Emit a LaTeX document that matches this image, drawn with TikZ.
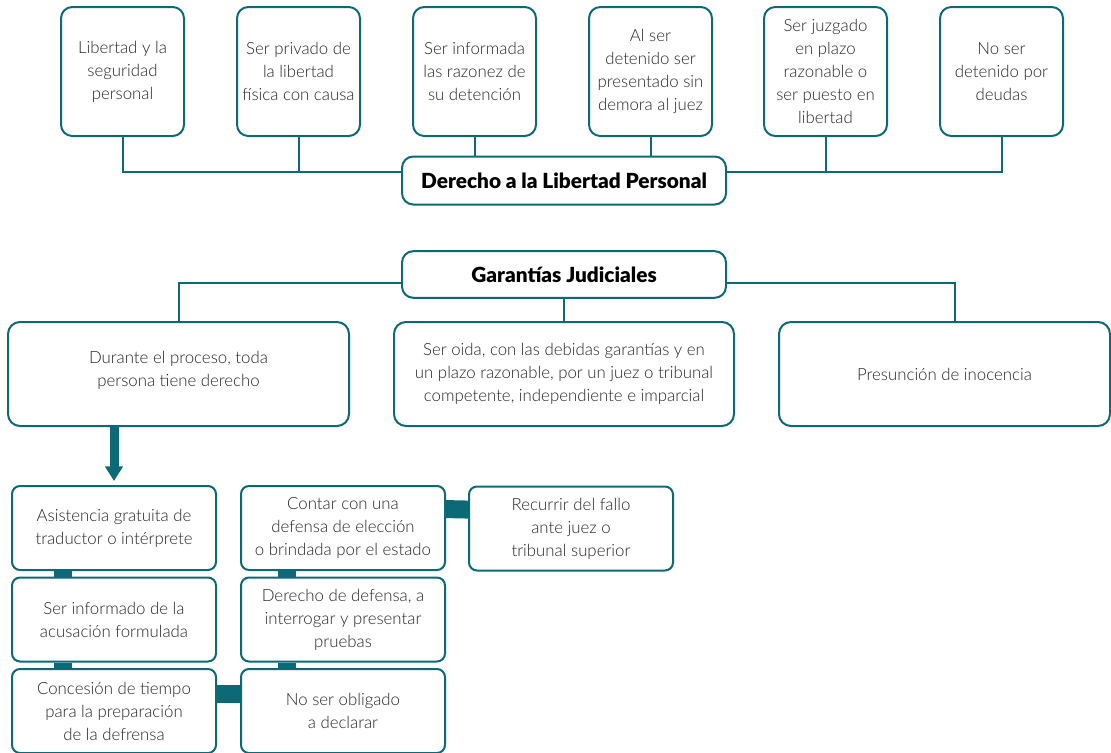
\documentclass[tikz,border=0pt]{standalone}
\usepackage{fontspec}
\setmainfont{Lato Light}
\newfontfamily\hb{Lato Black}
\usetikzlibrary{arrows.meta}
\definecolor{tl}{HTML}{0B6A75}
\definecolor{tx}{HTML}{262626}
\begin{document}
\begin{tikzpicture}[x=0.75pt,y=-0.75pt,
  box/.style={draw=tl,line width=1.5pt,rounded corners=8.5pt,fill=white,align=center,
    text=tx,font=\fontsize{12.6}{17.25}\selectfont,inner sep=0pt},
  topbox/.style={box,minimum width=92.25pt,minimum height=96.75pt},
  headbox/.style={box,minimum width=243pt,minimum height=36pt,font=\hb\fontsize{15.6}{17}\selectfont,text=black},
  midbox/.style={box,minimum height=78pt,rounded corners=9pt},
  lowbox/.style={box,minimum width=153pt,minimum height=63pt,rounded corners=6pt},
  thin/.style={draw=tl,line width=1.5pt},
  thick/.style={draw=tl,line width=13.5pt}]
\useasboundingbox (0,0) rectangle (1111,753);

% top
\node[topbox] (t1) at (122.5,71.5) {Libertad y la\\seguridad\\personal};
\node[topbox] (t2) at (298.5,71.5) {Ser privado de\\la libertad\\física con causa};
\node[topbox] (t3) at (474.5,71.5) {Ser informada\\las razonez de\\su detención};
\node[topbox] (t4) at (650.5,71.5) {Al ser\\detenido ser\\presentado sin\\demora al juez};
\node[topbox] (t5) at (825.5,71.5) {Ser juzgado\\en plazo\\razonable o\\ser puesto en\\libertad};
\node[topbox] (t6) at (1001.5,71.5) {No ser\\detenido por\\deudas};
\node[headbox] (d) at (564,180.5) {Derecho a la Libertad Personal};
\coordinate (dl) at ([yshift=6.4pt]d.west);
\coordinate (dr) at ([yshift=6.4pt]d.east);
\draw[thin] (t1.south) |- (dl);
\draw[thin] (t2.south) -- (t2.south |- dl);
\draw[thin] (t3.south) -- (t3.south |- d.north);
\draw[thin] (t4.south) -- (t4.south |- d.north);
\draw[thin] (t6.south) |- (dr);
\draw[thin] (t5.south) -- (t5.south |- dr);

% garantias
\node[headbox,minimum height=35pt] (g) at (564,274.5) {Garantías Judiciales};
\node[midbox,minimum width=255.75pt] (l) at (178.5,374) {Durante el proceso, toda\\persona tiene derecho\\[-10pt]};
\node[midbox,minimum width=255pt] (m) at (564,374) {Ser oida, con las debidas garantías y en\\un plazo razonable, por un juez o tribunal\\competente, independiente e imparcial};
\node[midbox,minimum width=248.25pt] (r) at (944.5,374) {Presunción de inocencia};
\draw[thin] ([yshift=-6.4pt]g.west) -| (l.north);
\draw[thin] ([yshift=-6.4pt]g.east) -| ([xshift=7.9pt]r.north);
\draw[thin] (g.south) -- (m.north);

% lower
\node[lowbox] (a1) at (114,528) {Asistencia gratuita de\\traductor o intérprete};
\node[lowbox] (a2) at (114,619.5) {Ser informado de la\\acusación formulada};
\node[lowbox] (a3) at (114,711) {Concesión de tiempo\\para la preparación\\de la defrensa};
\node[lowbox] (b1) at (343,528) {Contar con una\\defensa de elección\\o brindada por el estado};
\node[lowbox] (b2) at (343,619.5) {Derecho de defensa, a\\interrogar y presentar\\pruebas};
\node[lowbox] (b3) at (343,711) {No ser obligado\\a declarar};
\node[lowbox] (c1) at (571,528.5) {Recurrir del fallo\\ante juez o\\tribunal superior};

\draw[thick] ([xshift=-38.6pt]a1.south) -- ([xshift=-38.6pt]a2.north);
\draw[thick] ([xshift=-38.6pt]a2.south) -- ([xshift=-38.6pt]a3.north);
\draw[thick] ([xshift=-42pt]b1.south) -- ([xshift=-42pt]b2.north);
\draw[thick] ([xshift=-42pt]b2.south) -- ([xshift=-42pt]b3.north);
\draw[thick] ([yshift=13.1pt]a3.east) -- ([yshift=13.1pt]b3.west);
\draw[thick] ([yshift=14.2pt]b1.east) -- ([yshift=14.2pt]c1.west);

\draw[draw=tl,line width=6.75pt,-{Triangle[width=13pt,length=11pt]}] (a1.north |- l.south) -- ([yshift=3pt]a1.north);
\end{tikzpicture}
\end{document}
